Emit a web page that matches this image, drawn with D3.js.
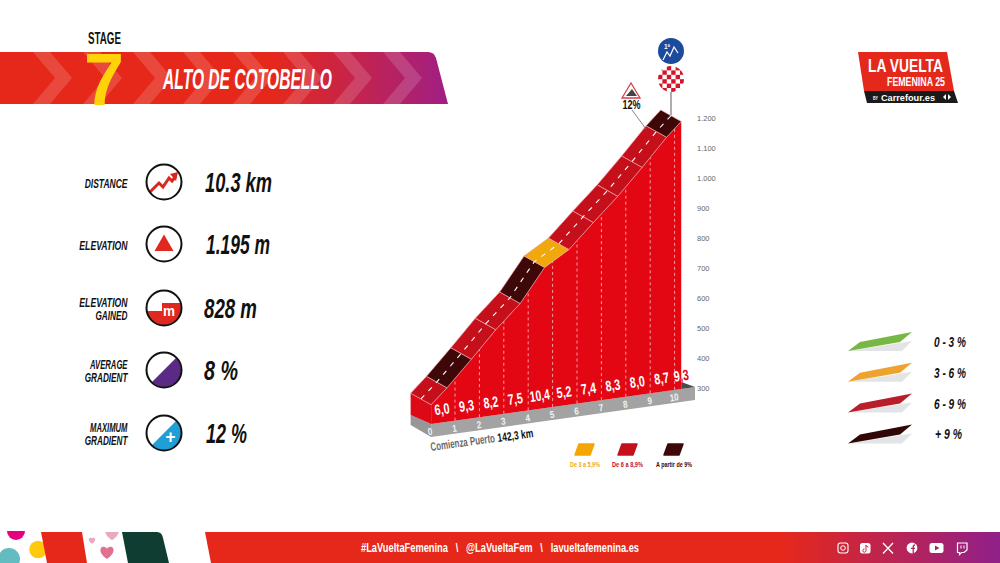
<!DOCTYPE html>
<html>
<head>
<meta charset="utf-8">
<script src="https://cdn.jsdelivr.net/npm/d3@7"></script>
<style>
  html, body { margin: 0; padding: 0; background: #fff; }
  svg { display: block; }
  text { font-family: "Liberation Sans Narrow", "Liberation Sans", sans-serif; font-weight: 700; }
  .axis text { font-family: "Liberation Sans", sans-serif; font-weight: 400; }
</style>
</head>
<body>
<svg width="1000" height="563" viewBox="0 0 1000 563"></svg>
<script>
// profile values
const roadKm = [0.35, 1, 2, 3, 4, 5, 6, 7, 8, 9, 10, 10.6];
const roadElev = [367, 416, 500, 587, 663, 772, 820, 899, 975, 1060, 1149, 1195];
const gradients = [6.0, 9.3, 8.2, 7.5, 10.4, 5.2, 7.4, 8.3, 8.0, 8.7, 9.3];
const kmTicks = [0, 1, 2, 3, 4, 5, 6, 7, 8, 9, 10];
const elevTicks = [300, 400, 500, 600, 700, 800, 900, 1000, 1100, 1200];
const elevLabels = ["300", "400", "500", "600", "700", "800", "900", "1.000", "1.100", "1.200"];
const baseElev = 303;

const statLabels = [["DISTANCE"], ["ELEVATION"], ["ELEVATION", "GAINED"], ["AVERAGE", "GRADIENT"], ["MAXIMUM", "GRADIENT"]];
const statValues = ["10.3 km", "1.195 m", "828 m", "8 %", "12 %"];
const legendLabels = ["0 - 3 %", "3 - 6 %", "6 - 9 %", "+ 9 %"];
const legendColors = ["#76b843", "#eda32d", "#b81f2b", "#300606"];
const chartLegendLabels = ["De 3 a 5,9%", "De 6 a 8,9%", "A partir de 9%"];
const chartLegendColors = ["#f5a500", "#c5101c", "#3f0808"];
const footerLine = "#LaVueltaFemenina   \\   @LaVueltaFem   \\   lavueltafemenina.es";

const RED = "#e6281a", BODY = "#e30613", ROAD = "#c5101c", DARK = "#3f0808", ORANGE = "#f0a80c";

const svg = d3.select("svg");
const defs = svg.append("defs");

function grad(id, stops) {
  const g = defs.append("linearGradient").attr("id", id).attr("gradientUnits", "userSpaceOnUse")
    .attr("x1", stops[0][0]).attr("x2", stops[stops.length - 1][0]).attr("y1", 0).attr("y2", 0);
  stops.forEach((s) => g.append("stop")
    .attr("offset", (s[0] - stops[0][0]) / (stops[stops.length - 1][0] - stops[0][0]))
    .attr("stop-color", s[1]));
}
grad("bannerFill", [[0, RED], [270, RED], [448, "#a01f84"]]);
grad("footerFill", [[205, RED], [780, RED], [1000, "#90208a"]]);

// squeezed text, the font is wider than the one on the poster
function label(parent, str, x, y, size, width, o = {}) {
  const t = parent.append("text").attr("x", x).attr("y", y)
    .attr("font-size", size)
    .attr("fill", o.fill || "#111")
    .attr("text-anchor", o.anchor || "start")
    .text(str);
  if (width) t.attr("textLength", width).attr("lengthAdjust", "spacingAndGlyphs");
  if (o.italic) t.attr("font-style", "italic");
  if (o.rotate) t.attr("transform", "rotate(" + o.rotate + " " + x + " " + y + ")");
  return t;
}
const poly = (pts) => pts.map((p) => p.join(",")).join(" ");

// ---------- banner
const banner = svg.append("g");
const bannerPath = "M0,52 H428 Q434,52 436,58 L448,104 H0 Z";
defs.append("clipPath").attr("id", "bannerClip").append("path").attr("d", bannerPath);
banner.append("path").attr("d", bannerPath).attr("fill", "url(#bannerFill)");
banner.append("g").attr("clip-path", "url(#bannerClip)")
  .selectAll("polygon").data(d3.range(8)).join("polygon")
  .attr("points", (i) => {
    const x = 33 + 50 * i;
    return poly([[x, 52], [x + 17, 52], [x + 39, 78], [x + 17, 104], [x, 104], [x + 22, 78]]);
  })
  .attr("fill", "#fff").attr("opacity", 0.15);
label(banner, "STAGE", 88, 43.5, 16, 33);
label(banner, "7", 84, 105, 74, 40, { fill: "#ffd20a" });
label(banner, "ALTO DE COTOBELLO", 163, 89, 30, 169, { fill: "#fff", italic: true });

// ---------- stats
const statY = [182, 244, 308, 370, 433];
const stats = svg.append("g");
const valueX = [205, 206, 204, 204, 206], valueW = [67, 64, 53, 34, 41];
statLabels.forEach((lines, i) => {
  const y0 = statY[i] + (lines.length === 1 ? 6 : -1.5);
  lines.forEach((l, j) => {
    label(stats, l, 127.5, y0 + j * 13, 13.5, l.length * 5.35, { anchor: "end", italic: true });
  });
  label(stats, statValues[i], valueX[i], statY[i] + 9.5, 28, valueW[i], { italic: true });
  const c = stats.append("g").attr("transform", "translate(164," + statY[i] + ")");
  defs.append("clipPath").attr("id", "ic" + i).append("circle").attr("r", 17);
  const inner = c.append("g").attr("clip-path", "url(#ic" + i + ")");
  if (i === 0) {
    c.append("polyline").attr("points", "-14,10 -5,1 -1,5 5,-4 8,-1 12,-6")
      .attr("fill", "none").attr("stroke", "#d9281e").attr("stroke-width", 3);
    c.append("polygon").attr("points", "6,-8 14,-10 12,-1").attr("fill", "#d9281e");
  } else if (i === 1) {
    c.append("polygon").attr("points", "0,-9.5 9.5,7 -9.5,7").attr("fill", "#e0281e");
  } else if (i === 2) {
    inner.append("polygon").attr("points", "-18,3 -2,3 -2,-5 18,-5 18,18 -18,18").attr("fill", "#e0281e");
    label(c, "m", 5, 8, 15, 12, { fill: "#fff", anchor: "middle" });
  } else if (i === 3) {
    inner.append("polygon").attr("points", "18,-18 18,18 -18,18").attr("fill", "#5b2a86");
  } else {
    inner.append("polygon").attr("points", "18,-18 18,18 -18,18").attr("fill", "#1f9fd6");
    label(c, "+", 6.5, 10, 18, 10, { fill: "#fff", anchor: "middle" });
  }
  c.append("circle").attr("r", 17.5).attr("fill", "none").attr("stroke", "#111").attr("stroke-width", 2);
});

// ---------- profile
const tilt = 0.14;          // the base rises to the right
const depth = [-20.5, -11.5]; // offset of the road's back edge
const xScale = d3.scaleLinear().domain([0, 10]).range([422.6, 666.6]);
const yScale = d3.scaleLinear().domain([300, 1200]).range([387.9, 118]);
const tickX = (km) => xScale(km) + 8;
const projY = (x, e) => yScale(e) + tilt * (695 - x);
const gradColor = d3.scaleThreshold().domain([3, 6, 9])
  .range([legendColors[0], ORANGE, ROAD, DARK]);

const front = roadKm.map((km, i) => {
  const x = xScale(km);
  return [x, projY(x, roadElev[i])];
});
const back = front.map((p) => [p[0] + depth[0], p[1] + depth[1]]);
const x0 = front[0][0], x1 = front[front.length - 1][0];
const profile = svg.append("g");

// grey base block
const baseRight = 695;
profile.append("polygon")
  .attr("points", poly([[x0, projY(x0, baseElev)], [baseRight, projY(baseRight, baseElev)],
    [baseRight, projY(baseRight, baseElev) + 13], [x0, projY(x0, baseElev) + 13]]))
  .attr("fill", "#a3a3a3");
profile.append("polygon")
  .attr("points", poly([[x0 + depth[0], projY(x0, baseElev) - 9], [x0, projY(x0, baseElev)],
    [x0, projY(x0, baseElev) + 13], [x0 + depth[0], projY(x0, baseElev) + 1]]))
  .attr("fill", "#979797");
profile.append("polygon")
  .attr("points", poly([[x1, projY(x1, baseElev) - 7], [baseRight, projY(baseRight, baseElev)], [x1, projY(x1, baseElev)]]))
  .attr("fill", "#4b4b4b");

// red body and left face
const bodyPts = front.concat([[x1, projY(x1, baseElev)], [x0, projY(x0, baseElev)]]);
defs.append("clipPath").attr("id", "bodyClip").append("polygon").attr("points", poly(bodyPts));
profile.append("polygon").attr("points", poly(bodyPts)).attr("fill", BODY);
profile.append("polygon")
  .attr("points", poly([back[0], front[0], [x0, projY(x0, baseElev)], [x0 + depth[0], projY(x0, baseElev) - 9]]))
  .attr("fill", "#dc0a16");

// dashed km lines
const elevAt = d3.scaleLinear().domain(roadKm).range(roadElev);
profile.append("g").selectAll("line").data(kmTicks.slice(1)).join("line")
  .attr("x1", (k) => tickX(k)).attr("x2", (k) => tickX(k))
  .attr("y1", (k) => projY(tickX(k), baseElev))
  .attr("y2", (k) => projY(tickX(k), elevAt(xScale.invert(tickX(k)))))
  .attr("stroke", "#f7b0b0").attr("stroke-width", 0.9).attr("stroke-dasharray", "3 3");

// road segments by gradient
profile.append("g").selectAll("polygon").data(gradients).join("polygon")
  .attr("points", (d, i) => poly([front[i], front[i + 1], back[i + 1], back[i]]))
  .attr("fill", (d) => gradColor(d))
  .attr("stroke", "#f0a0a0").attr("stroke-width", 0.7);
profile.append("polyline")
  .attr("points", poly(front.map((p) => [p[0] + depth[0] / 2, p[1] + depth[1] / 2])))
  .attr("fill", "none").attr("stroke", "#fff").attr("stroke-width", 1.1).attr("stroke-dasharray", "5 6");

// gradient labels, the last one hangs off the body
const fmt = (v) => d3.format(".1f")(v).replace(".", ",");
gradients.forEach((g, i) => {
  const next = i < gradients.length - 1 ? tickX(i + 1) : tickX(10.6);
  const mx = (tickX(i) + next) / 2;
  const by = projY(mx, baseElev) - 8;
  const w = g >= 10 ? 20 : 15;
  if (i === gradients.length - 1) {
    label(profile, fmt(g), mx, by, 15, w, { anchor: "middle", fill: BODY, rotate: -8 });
  }
  label(profile.append("g").attr("clip-path", "url(#bodyClip)"), fmt(g), mx, by, 15, w,
    { anchor: "middle", fill: "#fff", rotate: -8 });
});

// km labels on the base
kmTicks.forEach((k) => {
  const x = tickX(k);
  label(profile, String(k), x, projY(x, baseElev) + 11, 10, k === 10 ? 9 : 4.5,
    { anchor: "middle", fill: "#f2f2f2", rotate: -8 });
});
label(profile, "Comienza Puerto", 431, 451, 12, 65, { fill: "#6a6a6a", rotate: -8 });
label(profile, "142,3 km", 498, 442, 12, 36, { fill: "#111", rotate: -8 });

// elevation axis
const yAxis = d3.axisRight(yScale).tickValues(elevTicks).tickSize(0).tickPadding(0)
  .tickFormat((d, i) => elevLabels[i]);
svg.append("g").attr("class", "axis").attr("transform", "translate(697,0)").call(yAxis)
  .call((g) => g.select(".domain").remove())
  .call((g) => g.selectAll("text").attr("font-size", 7.5).attr("fill", "#666"));

// summit and steepest point markers
const markers = svg.append("g");
markers.append("line").attr("x1", 671).attr("x2", 671).attr("y1", 92).attr("y2", 115).attr("stroke", "#777").attr("stroke-width", 1.2);
markers.append("line").attr("x1", 632).attr("x2", 646).attr("y1", 110).attr("y2", 129).attr("stroke", "#777").attr("stroke-width", 0.9);
markers.append("circle").attr("cx", 671).attr("cy", 51).attr("r", 13).attr("fill", "#1c4a9c");
markers.append("polyline").attr("points", "663,60 667,52 670,56 674,47 678,53")
  .attr("fill", "none").attr("stroke", "#fff").attr("stroke-width", 1.2);
label(markers, "1ª", 664, 49, 7, 6, { fill: "#fff" });
defs.append("clipPath").attr("id", "checkClip").append("circle").attr("cx", 671).attr("cy", 79).attr("r", 13);
markers.append("circle").attr("cx", 671).attr("cy", 79).attr("r", 13).attr("fill", "#fff");
const checks = markers.append("g").attr("clip-path", "url(#checkClip)");
d3.range(6).forEach((r) => d3.range(6).forEach((c) => {
  if ((r + c) % 2 === 0) {
    checks.append("rect").attr("x", 658 + c * 4.4).attr("y", 66 + r * 4.4)
      .attr("width", 4.4).attr("height", 4.4).attr("fill", "#d5142a");
  }
}));
markers.append("polygon").attr("points", "631,83 622,98 640,98")
  .attr("fill", "#fff").attr("stroke", "#d8424a").attr("stroke-width", 1.3);
markers.append("polygon").attr("points", "626,96 632,89 637,96").attr("fill", "#444");
label(markers, "12%", 631.5, 108.5, 12, 18, { anchor: "middle" });

// small legend under the chart
const chartLegendX = [574, 617, 663], chartLegendTextX = [585, 627.5, 674], chartLegendW = [30, 31, 36];
chartLegendColors.forEach((c, i) => {
  const x = chartLegendX[i];
  svg.append("polygon").attr("points", poly([[x + 5, 444], [x + 20, 444], [x + 16, 455], [x + 1, 455]]))
    .attr("fill", c).attr("stroke", c).attr("stroke-width", 1.5).attr("stroke-linejoin", "round");
  label(svg, chartLegendLabels[i], chartLegendTextX[i], 466.5, 7, chartLegendW[i],
    { anchor: "middle", fill: i === 0 ? ORANGE : i === 1 ? ROAD : DARK });
});

// legend on the right
const legend = svg.append("g");
const legendW = [32, 32, 32, 27], legendX = [934, 934, 934, 935];
legendLabels.forEach((l, i) => {
  const y = 351 + i * 30.8;
  legend.append("polygon").attr("points", poly([[848, y], [912, y - 10], [902, y]])).attr("fill", "#e2e4e5");
  legend.append("polygon").attr("points", poly([[848, y], [860, y - 9], [912, y - 19], [900, y - 9]])).attr("fill", legendColors[i]);
  label(legend, l, legendX[i], y - 4, 14, legendW[i], { italic: true });
});

// logo
const logo = svg.append("g");
logo.append("polygon").attr("points", "858,52 947,52 954,91 864,91").attr("fill", "#e4281c");
logo.append("polygon").attr("points", "864,91 954,91 958,103 867,103").attr("fill", "#1a1a1a");
label(logo, "LA VUELTA", 868, 71.5, 19, 75, { fill: "#fff" });
label(logo, "FEMENINA 25", 887, 85.5, 13, 58, { fill: "#fff" });
label(logo, "BY", 873, 100, 5, 5, { fill: "#fff" });
label(logo, "Carrefour.es", 881, 101, 9.5, 54, { fill: "#fff" }).style("font-family", '"Liberation Sans", sans-serif');
logo.append("polygon").attr("points", "943,97 946,94 946,100").attr("fill", "#fff");
logo.append("polygon").attr("points", "951,97 948,94 948,100").attr("fill", "#fff");

// ---------- footer
const footer = svg.append("g");
defs.append("clipPath").attr("id", "stripClip").append("rect").attr("y", 532).attr("width", 1000).attr("height", 31);
footer.append("path").attr("d", "M7,531 A9,9 0 0 0 25,531 Z").attr("fill", "#e6007e");
footer.append("circle").attr("cx", 38).attr("cy", 549.5).attr("r", 8.8).attr("fill", "#ffc90e");
footer.append("circle").attr("cx", 9).attr("cy", 559).attr("r", 11).attr("fill", "#63bcc0");
footer.append("polygon").attr("points", "41,532 82,532 87,563 47,563").attr("fill", RED);
footer.append("path").attr("d", "M122,532 H157 Q162,532 163,538 L169,563 H128 Z").attr("fill", "#0f3d31");
const heart = "M0,5 C-9,-1 -6,-7 -2.5,-6 C-1,-6 0,-5 0,-4 C0,-5 1,-6 2.5,-6 C6,-7 9,-1 0,5 Z";
const hearts = footer.append("g").attr("clip-path", "url(#stripClip)");
hearts.append("path").attr("d", heart).attr("transform", "translate(92,541) scale(0.55)").attr("fill", "#eba9bf");
hearts.append("path").attr("d", heart).attr("transform", "translate(112,534.5) scale(1.15)").attr("fill", "#eba9bf");
hearts.append("path").attr("d", heart).attr("transform", "translate(107,553.5) scale(1.1)").attr("fill", "#e0708f");
footer.append("path").attr("d", "M205,532 H1000 V563 H211 Z").attr("fill", "url(#footerFill)");
label(footer, footerLine, 361, 552, 13, 278, { fill: "#fff" }).style("white-space", "pre");

const icons = footer.append("g").attr("fill", "none").attr("stroke", "#fff");
icons.append("rect").attr("x", 838).attr("y", 543).attr("width", 10).attr("height", 10).attr("rx", 2.5).attr("stroke-width", 1.1);
icons.append("circle").attr("cx", 843).attr("cy", 548).attr("r", 2.3).attr("stroke-width", 1);
icons.append("rect").attr("x", 860).attr("y", 543).attr("width", 10.5).attr("height", 10.5).attr("rx", 2.5).attr("fill", "#fff").attr("stroke", "none");
icons.append("path").attr("d", "M866,545 V550.5 A1.6,1.6 0 1 1 864.5,549 M866,545 Q866.5,547 868.5,547").attr("stroke", "#c92448").attr("stroke-width", 1);
icons.append("path").attr("d", "M883,543 L893,553.5 M893,543 L883,553.5").attr("stroke-width", 1.3);
icons.append("circle").attr("cx", 912).attr("cy", 548).attr("r", 5.4).attr("fill", "#fff").attr("stroke", "none");
icons.append("path").attr("d", "M913.2,553.5 V547 Q913.2,545 915,545 M911,548.3 H915").attr("stroke", "#b82460").attr("stroke-width", 1.3);
icons.append("rect").attr("x", 929.5).attr("y", 543).attr("width", 14).attr("height", 10).attr("rx", 2.5).attr("fill", "#fff").attr("stroke", "none");
icons.append("polygon").attr("points", "935,545.5 939.5,548 935,550.5").attr("fill", "#a82372").attr("stroke", "none");
icons.append("path").attr("d", "M957.5,543 H967 V550 L964,552.5 H961.5 L959.5,554.5 V552.5 H957.5 Z").attr("stroke-width", 1.2);
icons.append("path").attr("d", "M961,545.5 V548.5 M964,545.5 V548.5").attr("stroke-width", 1);
</script>
</body>
</html>
